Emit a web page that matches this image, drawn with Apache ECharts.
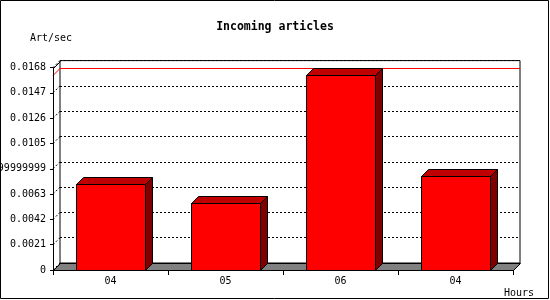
<!DOCTYPE html>
<html>
<head>
<meta charset="utf-8">
<script src="https://cdn.jsdelivr.net/npm/echarts@6/dist/echarts.min.js"></script>
<style>
html,body{margin:0;padding:0;background:#fff;}
#chart{width:550px;height:300px;}
</style>
</head>
<body>
<div id="chart"></div>
<script>
// ---- data ----
const titleText = 'Incoming articles';
const yAxisTitle = 'Art/sec';
const xAxisTitle = 'Hours';
const categories = ['04', '05', '06', '04'];
const articlesPerSec = [0.0071, 0.0056, 0.0162, 0.0078];
const yTickLabels = ['0', '0.0021', '0.0042', '0.0063', '0.008399999999', '0.0105', '0.0126', '0.0147', '0.0168'];
const yStep = 0.0021;
const yMin = 0;
const yMax = 0.0168;

// ---- style ----
const FONT = 'DejaVu Sans Mono';
const D = 7; // 3D depth in px
const crisp = v => Math.round(v) + 0.5;
const tickValues = yTickLabels.map((_, i) => yMin + i * yStep);
const maxValue = Math.max.apply(null, articlesPerSec);

const chart = echarts.init(document.getElementById('chart'), null, {renderer: 'canvas'});

const option = {
  backgroundColor: '#fff',
  animation: false,
  title: {
    text: titleText,
    left: 'center',
    top: 21,
    padding: 0,
    textStyle: {fontFamily: FONT, fontWeight: 'bold', fontSize: 11.5, color: '#000'}
  },
  grid: [
    { // front (axes)
      left: 53, right: 37, top: 67.6, bottom: 30, show: false,
      containLabel: false, outerBoundsMode: 'none'
    },
    { // back plane
      left: 60, right: 30, top: 60.6, bottom: 37,
      containLabel: false, outerBoundsMode: 'none',
      show: true, backgroundColor: '#fff', borderColor: '#000', borderWidth: 1, z: 0
    }
  ],
  xAxis: [
    {
      gridIndex: 0, type: 'category', data: categories, boundaryGap: true,
      axisLine: {show: true, lineStyle: {color: '#000', width: 1}},
      axisTick: {show: true, inside: false, length: 5, alignWithLabel: false, interval: 0, lineStyle: {color: '#000'}},
      axisLabel: {show: true, interval: 0, margin: 6, fontFamily: FONT, fontSize: 10, color: '#000'},
      splitLine: {show: false},
      z: 10
    },
    {
      gridIndex: 1, type: 'value', min: 0, max: 1, show: false
    }
  ],
  yAxis: [
    {
      gridIndex: 0, type: 'value', min: yMin, max: yMax, interval: yStep,
      axisLine: {show: true, lineStyle: {color: '#000', width: 1}},
      axisTick: {show: true, inside: false, length: 3, lineStyle: {color: '#000'}},
      axisLabel: {
        show: true, margin: 7, fontFamily: FONT, fontSize: 10, color: '#000',
        hideOverlap: false,
        formatter: v => yTickLabels[Math.round((v - yMin) / yStep)]
      },
      splitLine: {show: false},
      z: 10
    },
    {
      gridIndex: 1, type: 'value', min: yMin, max: yMax, interval: yStep,
      axisLine: {show: false}, axisTick: {show: false}, axisLabel: {show: false},
      splitLine: {show: true, lineStyle: {color: '#000', width: 1, type: [2, 2]}},
      z: 1
    }
  ],
  graphic: [
    {type: 'text', left: 30, top: 33, z: 100, style: {text: yAxisTitle, fontFamily: FONT, fontSize: 10, fill: '#000'}},
    {type: 'text', left: 504, top: 288, z: 100, style: {text: xAxisTitle, fontFamily: FONT, fontSize: 10, fill: '#000'}},
    {type: 'rect', z: 100, shape: {x: 0.5, y: 0.5, width: 548, height: 298}, style: {fill: 'none', stroke: '#000', lineWidth: 1}}
  ],
  series: [
    { // left wall dotted grid diagonals
      type: 'custom', xAxisIndex: 1, yAxisIndex: 1, z: 2, silent: true,
      data: tickValues.map(v => [0, v]),
      renderItem: function (params, api) {
        const cs = params.coordSys;
        const p = api.coord([0, api.value(1)]);
        return {
          type: 'line',
          shape: {x1: cs.x - D, y1: p[1] + D, x2: cs.x, y2: p[1]},
          style: {stroke: '#000', lineWidth: 1, lineDash: [2, 2]}
        };
      }
    },
    { // max line
      type: 'custom', xAxisIndex: 1, yAxisIndex: 1, z: 3, silent: true,
      data: [[0, maxValue]],
      renderItem: function (params, api) {
        const cs = params.coordSys;
        const y = crisp(api.coord([0, api.value(1)])[1]);
        return {
          type: 'group',
          children: [
            {type: 'line', shape: {x1: cs.x, y1: y, x2: cs.x + cs.width, y2: y}, style: {stroke: '#ff0000', lineWidth: 1}},
            {type: 'line', shape: {x1: cs.x - D, y1: y + D, x2: cs.x, y2: y}, style: {stroke: '#ff0000', lineWidth: 1}}
          ]
        };
      }
    },
    { // floor + top-left wall edge
      type: 'custom', xAxisIndex: 0, yAxisIndex: 0, z: 4, silent: true,
      data: [[0, 0]],
      renderItem: function (params, api) {
        const cs = params.coordSys;
        const x0 = crisp(cs.x), x1 = crisp(cs.x + cs.width);
        const yb = crisp(api.coord([0, yMin])[1]);
        const yt = crisp(api.coord([0, yMax])[1]);
        return {
          type: 'group',
          children: [
            {type: 'polygon', shape: {points: [[x0, yb], [x1, yb], [x1 + D, yb - D], [x0 + D, yb - D]]},
             style: {fill: '#808080', stroke: '#000', lineWidth: 1}},
            {type: 'line', shape: {x1: x0, y1: yt, x2: x0 + D, y2: yt - D}, style: {stroke: '#000', lineWidth: 1}}
          ]
        };
      }
    },
    { // 3D bars
      type: 'custom', xAxisIndex: 0, yAxisIndex: 0, z: 5,
      data: articlesPerSec.map((v, i) => [i, v]),
      encode: {x: 0, y: 1},
      renderItem: function (params, api) {
        const top = api.coord([api.value(0), api.value(1)]);
        const base = api.coord([api.value(0), 0]);
        const w = api.size([1, 0])[0] * 0.6;
        const x1 = crisp(top[0] - w / 2), x2 = crisp(top[0] + w / 2);
        const yt = crisp(top[1]), y0 = crisp(base[1]);
        return {
          type: 'group',
          children: [
            {type: 'polygon', shape: {points: [[x1, yt], [x2, yt], [x2 + D, yt - D], [x1 + D, yt - D]]},
             style: {fill: '#c00000', stroke: '#000', lineWidth: 1}},
            {type: 'polygon', shape: {points: [[x2, yt], [x2 + D, yt - D], [x2 + D, y0 - D], [x2, y0]]},
             style: {fill: '#800000', stroke: '#000', lineWidth: 1}},
            {type: 'rect', shape: {x: x1, y: yt, width: x2 - x1, height: y0 - yt},
             style: {fill: '#ff0000', stroke: '#000', lineWidth: 1}}
          ]
        };
      }
    }
  ]
};
chart.setOption(option);
</script>
</body>
</html>
